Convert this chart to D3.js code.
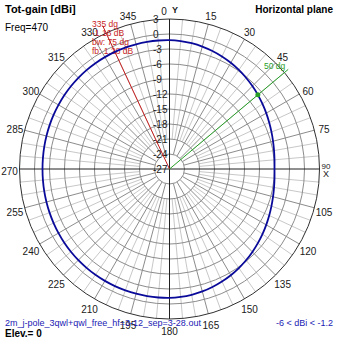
<!DOCTYPE html>
<html>
<head>
<meta charset="utf-8">
<script src="https://cdn.jsdelivr.net/npm/d3@7"></script>
<style>
  html, body { margin: 0; padding: 0; background: #fff; }
  svg { display: block; font-family: "Liberation Sans", Arial, sans-serif; }
</style>
</head>
<body>
<svg id="chart" width="339" height="339"></svg>
<script>
// Horizontal-plane total gain pattern (dBi), compass angles clockwise from top
const patternAngles = [0,5,10,15,20,25,30,35,40,45,50,55,60,65,70,75,80,85,90,
  95,100,105,110,115,120,125,130,135,140,145,150,155,160,165,170,175,180,
  185,190,195,200,205,210,215,220,225,230,235,240,245,250,255,260,265,270,
  275,280,285,290,295,300,305,310,315,320,325,330,335,340,345,350,355,360];
const patternGain = [-1.22,-1.32,-1.46,-1.65,-1.90,-2.18,-2.48,-2.82,-3.18,-3.55,-3.93,-4.30,-4.66,-5.00,-5.30,-5.56,-5.77,-5.92,-6.00,
  -5.92,-5.77,-5.56,-5.30,-5.00,-4.66,-4.30,-3.93,-3.55,-3.18,-2.82,-2.48,-2.18,-1.90,-1.65,-1.46,-1.32,-1.22,
  -1.20,-1.19,-1.18,-1.17,-1.16,-1.16,-1.17,-1.19,-1.22,-1.26,-1.31,-1.37,-1.42,-1.47,-1.52,-1.56,-1.59,-1.60,
  -1.59,-1.56,-1.52,-1.47,-1.42,-1.37,-1.31,-1.26,-1.22,-1.19,-1.17,-1.16,-1.16,-1.17,-1.18,-1.19,-1.20,-1.22];

// Radial gain rings (dBi) and their labels
const ringValues = [3,0,-3,-6,-9,-12,-15,-18,-21,-24,-27];
const ringLabels = ["3","0","-3","-6","-9","-12","-15","-18","-21","-24","-27"];

// Compass angle labels
const angleTicks = [15,30,45,60,75,105,120,135,150,165,180,195,210,225,240,255,270,285,300,315,330,345];

// Markers: maximum direction and a cursor direction
const maxAngle = 335;
const maxInfo = ["335 dg", "-1.16 dB", "bw: 75 dg", "fb: 1.28 dB"];
const cursorAngle = 50;
const cursorLabel = "50 dg";

const titleText = "Tot-gain [dBi]";
const freqText = "Freq=470";
const planeText = "Horizontal plane";
const fileText = "2m_j-pole_3qwl+qwl_free_hf=3-12_sep=3-28.out";
const rangeText = "-6 < dBi < -1.2";
const elevText = "Elev.= 0";

const svg = d3.select("#chart");
const cx = 169.5, cy = 169;
const r = d3.scaleLinear().domain([-27, 3]).range([0, 150]);
const toRad = d => d * Math.PI / 180;
const px = (deg, rad) => cx + rad * Math.sin(toRad(deg));
const py = (deg, rad) => cy - rad * Math.cos(toRad(deg));

svg.append("rect").attr("width", 339).attr("height", 339).attr("fill", "#fff");
const g = svg.append("g");

// Fine spokes every 5 degrees
const fine = d3.range(0, 360, 5).filter(a => a % 15 !== 0);
g.selectAll("line.fine").data(fine).join("line")
  .attr("x1", a => px(a, r(-21))).attr("y1", a => py(a, r(-21)))
  .attr("x2", a => px(a, r(3))).attr("y2", a => py(a, r(3)))
  .attr("stroke", "#c8c8c8").attr("stroke-width", 1);

// Main spokes every 15 degrees
const main = d3.range(0, 360, 15).filter(a => a % 90 !== 0);
g.selectAll("line.main").data(main).join("line")
  .attr("x1", a => px(a, r(-24))).attr("y1", a => py(a, r(-24)))
  .attr("x2", a => px(a, r(3))).attr("y2", a => py(a, r(3)))
  .attr("stroke", "#8c8c8c").attr("stroke-width", 1);

// Rings
g.selectAll("circle.ring").data(ringValues.filter(v => v > -27)).join("circle")
  .attr("cx", cx).attr("cy", cy).attr("r", v => r(v))
  .attr("fill", "none")
  .attr("stroke", v => v === 3 ? "#303030" : "#8c8c8c")
  .attr("stroke-width", 1);

// Axes
[0, 90].forEach(a => {
  g.append("line")
    .attr("x1", px(a, r(3))).attr("y1", py(a, r(3)))
    .attr("x2", px(a + 180, r(3))).attr("y2", py(a + 180, r(3)))
    .attr("stroke", "#202020").attr("stroke-width", 1);
});

// Ring labels along the vertical axis
g.selectAll("text.ring").data(ringValues).join("text")
  .attr("x", 153).attr("y", (v) => cy - r(v))
  .attr("dy", "0.35em")
  .attr("font-size", 10).attr("fill", "#202020")
  .text((v, i) => ringLabels[i]);

// Angle labels
g.selectAll("text.ang").data(angleTicks).join("text")
  .attr("x", a => px(a, 160)).attr("y", a => py(a, 160) + 2)
  .attr("text-anchor", "middle").attr("dy", "0.35em")
  .attr("font-size", 10).attr("fill", "#202020")
  .text(a => a);
g.append("text").attr("x", 164).attr("y", 15).attr("text-anchor", "middle")
  .attr("font-size", 10).attr("fill", "#202020").text("0");
g.append("text").attr("x", 175).attr("y", 13).attr("text-anchor", "middle")
  .attr("font-size", 9).attr("font-weight", "bold").attr("fill", "#202020").text("Y");
g.append("text").attr("x", 326).attr("y", 169).attr("text-anchor", "middle")
  .attr("font-size", 8).attr("fill", "#202020").text("90");
g.append("text").attr("x", 326).attr("y", 177).attr("text-anchor", "middle")
  .attr("font-size", 9).attr("fill", "#202020").text("X");

// Maximum direction marker
g.append("line")
  .attr("x1", cx).attr("y1", cy)
  .attr("x2", px(maxAngle, 158)).attr("y2", py(maxAngle, 158))
  .attr("stroke", "#c81e1e").attr("stroke-width", 1);
g.selectAll("text.max").data(maxInfo).join("text")
  .attr("x", 92).attr("y", (d, i) => 27 + i * 9)
  .attr("font-size", 8.5).attr("fill", "#c81e1e")
  .text(d => d);

// Cursor direction marker
g.append("line")
  .attr("x1", cx).attr("y1", cy)
  .attr("x2", px(cursorAngle, 155)).attr("y2", py(cursorAngle, 155))
  .attr("stroke", "#28a028").attr("stroke-width", 1);
g.append("text").attr("x", px(cursorAngle, 155) - 3).attr("y", 69)
  .attr("text-anchor", "end").attr("font-size", 8.5).attr("fill", "#28a028")
  .text(cursorLabel);

// Pattern trace
const pts = patternAngles.map((a, i) => [toRad(a), r(patternGain[i])]);
const line = d3.lineRadial().angle(d => d[0]).radius(d => d[1]).curve(d3.curveCardinalClosed);
g.append("path")
  .attr("transform", `translate(${cx},${cy})`)
  .attr("d", line(pts.slice(0, -1)))
  .attr("fill", "none").attr("stroke", "#0a0a9a").attr("stroke-width", 1.8);

// Cursor point on the trace
const ci = patternAngles.indexOf(cursorAngle);
g.append("circle")
  .attr("cx", px(cursorAngle, r(patternGain[ci])))
  .attr("cy", py(cursorAngle, r(patternGain[ci])))
  .attr("r", 2.5).attr("fill", "#28a028");

// Titles and footer
svg.append("text").attr("x", 5).attr("y", 13).attr("font-size", 11).attr("font-weight", "bold").text(titleText);
svg.append("text").attr("x", 5).attr("y", 31).attr("font-size", 10).text(freqText);
svg.append("text").attr("x", 333).attr("y", 13).attr("text-anchor", "end").attr("font-size", 10).attr("font-weight", "bold").text(planeText);
svg.append("text").attr("x", 5).attr("y", 326).attr("font-size", 9).attr("fill", "#1a1ab4").text(fileText);
svg.append("text").attr("x", 333).attr("y", 326).attr("text-anchor", "end").attr("font-size", 9).attr("fill", "#1a1ab4").text(rangeText);
svg.append("text").attr("x", 5).attr("y", 337).attr("font-size", 10).attr("font-weight", "bold").text(elevText);
</script>
</body>
</html>
